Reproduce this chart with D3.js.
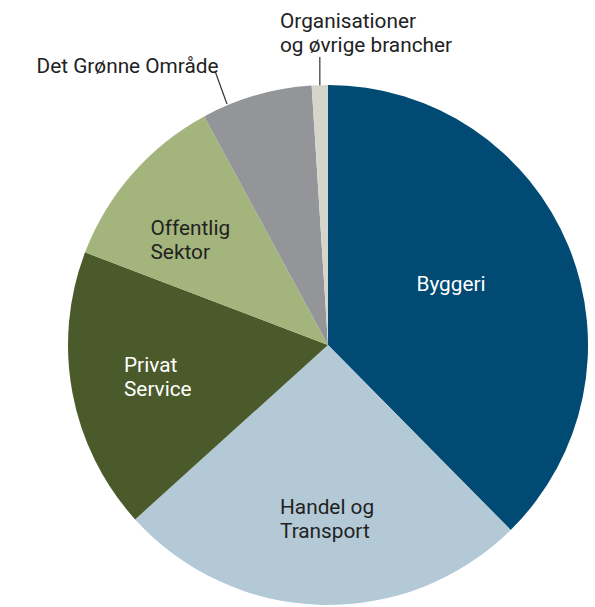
<!DOCTYPE html>
<html><head><meta charset="utf-8">
<script src="https://cdn.jsdelivr.net/npm/d3@7"></script>
<style>body{margin:0;background:#fff}svg{display:block}text{font-family:Roboto,"Open Sans",sans-serif;font-size:20.8px}</style>
</head><body>
<svg id="c" width="595" height="607"></svg>
<script>
const categories = ["Byggeri","Handel og Transport","Privat Service","Offentlig Sektor","Det Grønne Område","Organisationer og øvrige brancher"];
const values = [37.6, 25.7, 17.5, 11.3, 6.9, 1.0];
const colors = ["#004a73","#b3cad6","#4a5a2b","#a3b57c","#939598","#d6d5cb"];
const labelLines = [["Byggeri"],["Handel og","Transport"],["Privat","Service"],["Offentlig","Sektor"],["Det Grønne Område"],["Organisationer","og øvrige brancher"]];
const labelColors = ["#fff","#222","#fff","#222","#222","#222"];

const svg = d3.select("#c");
const cx = 328, cy = 345, r = 260;
const g = svg.append("g").attr("transform",`translate(${cx},${cy})`);
const pie = d3.pie().sort(null).value(d=>d);
const arcs = pie(values);
const arc = d3.arc().innerRadius(0).outerRadius(r);
g.selectAll("path").data(arcs).enter().append("path")
  .attr("d",arc).attr("fill",(d,i)=>colors[i]);

const labelPos = [
  {i:0, x:451, y:291, anchor:"middle"},
  {i:1, x:280, y:514, anchor:"start"},
  {i:2, x:124, y:371.5, anchor:"start"},
  {i:3, x:150.5, y:235, anchor:"start"},
  {i:4, x:36.5, y:73, anchor:"start"},
  {i:5, x:280, y:28, anchor:"start"}
];
labelPos.forEach(p=>{
  const t = svg.append("text").attr("x",p.x).attr("y",p.y)
    .attr("text-anchor",p.anchor).attr("fill",labelColors[p.i]);
  labelLines[p.i].forEach((ln,k)=>{
    t.append("tspan").attr("x",p.x).attr("dy",k===0?0:24).text(ln);
  });
});
// leader lines
const edge = a => [Math.sin(a)*r+cx, -Math.cos(a)*r+cy];
svg.append("line").attr("x1",215).attr("y1",71).attr("x2",227).attr("y2",104).attr("stroke","#333").attr("stroke-width",1.2);
const a5 = (arcs[5].startAngle+arcs[5].endAngle)/2;
const p5 = edge(a5);
svg.append("line").attr("x1",p5[0]).attr("y1",57).attr("x2",p5[0]).attr("y2",p5[1]).attr("stroke","#333").attr("stroke-width",1.2);
</script>
</body></html>
